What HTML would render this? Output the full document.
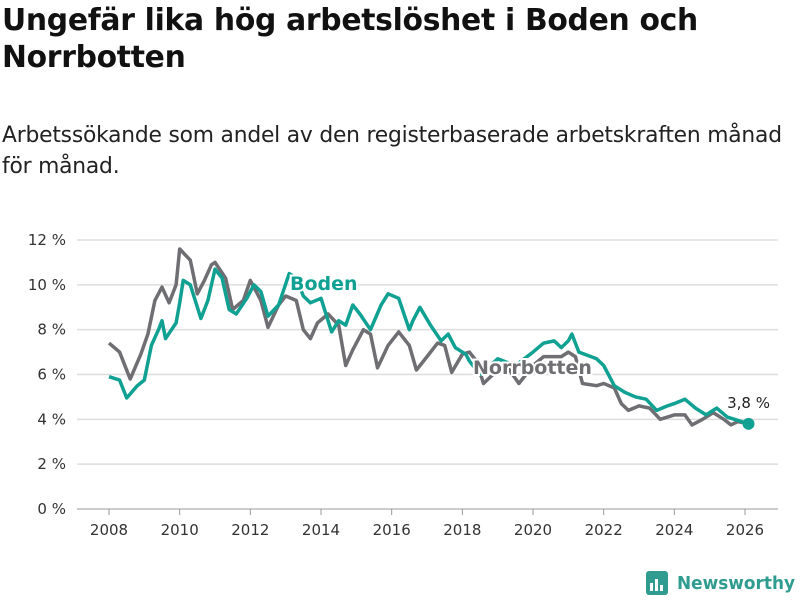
<!DOCTYPE html>
<html><head><meta charset="utf-8"><style>
body{margin:0;background:#fff;font-family:"Liberation Sans","DejaVu Sans",sans-serif;}
#wrap{position:relative;width:800px;height:600px;overflow:hidden}
h1{position:absolute;left:2px;top:2px;margin:0;font-size:29.8px;line-height:37px;font-weight:bold;color:#111;font-family:"DejaVu Sans",sans-serif;letter-spacing:-0.3px}
p.sub{position:absolute;left:2px;top:120px;margin:0;font-size:21.8px;line-height:31px;color:#222;font-family:"DejaVu Sans",sans-serif;letter-spacing:-0.2px}
</style></head><body>
<div id="wrap">
<h1>Ungefär lika hög arbetslöshet i Boden och<br>Norrbotten</h1>
<p class="sub">Arbetssökande som andel av den registerbaserade arbetskraften månad<br>för månad.</p>
<svg id="chart" width="800" height="600" style="position:absolute;left:0;top:0"></svg>
</div>
<script>
const yTicks=[0,2,4,6,8,10,12];
const xTicks=[2008,2010,2012,2014,2016,2018,2020,2022,2024,2026];
const nbT=[2008.0,2008.3,2008.6,2008.9,2009.1,2009.3,2009.5,2009.7,2009.9,2010.0,2010.3,2010.5,2010.7,2010.9,2011.0,2011.3,2011.5,2011.8,2012.0,2012.3,2012.5,2012.8,2013.0,2013.3,2013.5,2013.7,2013.9,2014.2,2014.5,2014.7,2014.9,2015.2,2015.4,2015.6,2015.9,2016.2,2016.5,2016.7,2016.9,2017.3,2017.5,2017.7,2018.0,2018.2,2018.4,2018.6,2019.0,2019.2,2019.6,2020.0,2020.3,2020.8,2021.0,2021.2,2021.4,2021.8,2022.0,2022.3,2022.5,2022.7,2023.0,2023.3,2023.6,2024.0,2024.3,2024.5,2024.8,2025.1,2025.4,2025.6,2025.8,2026.1];
const nbV=[7.4,7.0,5.8,6.9,7.8,9.3,9.9,9.2,10.0,11.6,11.1,9.6,10.2,10.9,11.0,10.3,8.9,9.3,10.2,9.3,8.1,9.1,9.5,9.3,8.0,7.6,8.3,8.7,8.2,6.4,7.1,8.0,7.8,6.3,7.3,7.9,7.3,6.2,6.6,7.4,7.3,6.1,6.9,7.0,6.6,5.6,6.2,6.5,5.6,6.4,6.8,6.8,7.0,6.8,5.6,5.5,5.6,5.4,4.7,4.4,4.6,4.5,4.0,4.2,4.2,3.75,4.0,4.3,4.0,3.75,3.9,3.8];
const bdT=[2008.0,2008.3,2008.5,2008.8,2009.0,2009.2,2009.4,2009.5,2009.6,2009.9,2010.0,2010.1,2010.3,2010.6,2010.8,2011.0,2011.2,2011.4,2011.6,2011.9,2012.1,2012.3,2012.5,2012.8,2013.1,2013.3,2013.5,2013.7,2014.0,2014.3,2014.5,2014.7,2014.9,2015.1,2015.4,2015.7,2015.9,2016.2,2016.5,2016.6,2016.8,2017.1,2017.4,2017.6,2017.8,2018.1,2018.2,2018.5,2019.0,2019.5,2020.0,2020.3,2020.6,2020.8,2021.0,2021.1,2021.3,2021.8,2022.0,2022.3,2022.6,2022.9,2023.2,2023.5,2023.8,2024.0,2024.3,2024.6,2024.9,2025.2,2025.5,2025.7,2026.1];
const bdV=[5.9,5.75,4.95,5.5,5.75,7.3,8.0,8.4,7.6,8.3,9.2,10.2,10.0,8.5,9.3,10.7,10.3,8.9,8.7,9.4,10.0,9.7,8.6,9.1,10.5,10.3,9.5,9.2,9.4,7.9,8.4,8.2,9.1,8.7,8.0,9.1,9.6,9.4,8.0,8.4,9.0,8.2,7.5,7.8,7.2,6.9,6.6,6.0,6.7,6.4,7.0,7.4,7.5,7.2,7.5,7.8,7.0,6.7,6.4,5.5,5.2,5.0,4.9,4.4,4.6,4.7,4.9,4.5,4.2,4.5,4.1,4.0,3.8];
const svg=document.getElementById('chart');const NS='http://www.w3.org/2000/svg';
const X=t=>109+(t-2008)*(745-109)/18;
const Y=v=>509-v*(509-240)/12;
function el(tag,attrs,txt){const e=document.createElementNS(NS,tag);for(const k in attrs)e.setAttribute(k,attrs[k]);if(txt!=null)e.textContent=txt;svg.appendChild(e);return e;}
yTicks.forEach(v=>{
 const g=el('line',{x1:77,x2:778,y1:Y(v),y2:Y(v),stroke:v===0?'#999':'#ddd','stroke-width':v===0?1:1.5});
 
 
 const t=el('text',{x:66,y:Y(v)+5,'text-anchor':'end','font-size':15,fill:'#333','font-family':'DejaVu Sans,sans-serif'},v+' %');
 
 
});
xTicks.forEach(yr=>{
 const l=el('line',{x1:X(yr),x2:X(yr),y1:509,y2:515,stroke:'#999'});
 
 
 const t=el('text',{x:X(yr),y:535,'text-anchor':'middle','font-size':15,fill:'#333','font-family':'DejaVu Sans,sans-serif'},String(yr));
 
 
});
function line(ts,vs,col,name){
 const d=ts.map((t,i)=>(i?'L':'M')+X(t).toFixed(1)+','+Y(vs[i]).toFixed(1)).join('');
 const p=el('path',{d:d,fill:'none',stroke:col,'stroke-width':3.5,'stroke-linejoin':'round'});
 
 
}
line(nbT,nbV,'#6e6e73','norrbotten-line');
line(bdT,bdV,'#11a192','boden-line');
function lab(x,y,txt,col,name){
 const t=el('text',{x:x,y:y,'font-size':19,'font-weight':'bold',fill:col,stroke:'#fff','stroke-width':4,'paint-order':'stroke','font-family':'DejaVu Sans,sans-serif'},txt);
 
 
}
lab(290,290,'Boden','#11a192','boden-label');
lab(473,374,'Norrbotten','#6e6e73','norrbotten-label');
const lastV=bdV[bdV.length-1],lastT=bdT[bdT.length-1];
const dot=el('circle',{cx:X(lastT),cy:Y(lastV),r:6,fill:'#11a192'});


const vl=el('text',{x:X(lastT),y:408,'text-anchor':'middle','font-size':15,fill:'#222',stroke:'#fff','stroke-width':3,'paint-order':'stroke','font-family':'DejaVu Sans,sans-serif'},String(lastV).replace('.',',')+' %');


const lg=el('g',{});


const r=document.createElementNS(NS,'rect');r.setAttribute('x',646);r.setAttribute('y',571);r.setAttribute('width',22);r.setAttribute('height',24);r.setAttribute('rx',3);r.setAttribute('fill','#2f9c8f');lg.appendChild(r);
[[650,583,3,8],[655,579,3,12],[660,585,3,6]].forEach(b=>{const q=document.createElementNS(NS,'rect');q.setAttribute('x',b[0]);q.setAttribute('y',b[1]);q.setAttribute('width',b[2]);q.setAttribute('height',b[3]);q.setAttribute('fill','#fff');lg.appendChild(q);});
const lt=document.createElementNS(NS,'text');lt.setAttribute('x',677);lt.setAttribute('y',589);lt.setAttribute('font-size',18);lt.setAttribute('font-weight','bold');lt.setAttribute('fill','#2f9c8f');lt.setAttribute('font-family','DejaVu Sans,sans-serif');lt.setAttribute('textLength',118);lt.setAttribute('lengthAdjust','spacingAndGlyphs');lt.textContent='Newsworthy';lg.appendChild(lt);
</script>
</body></html>
